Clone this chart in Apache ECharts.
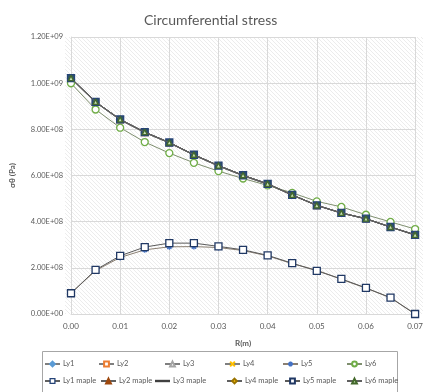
<!DOCTYPE html>
<html><head><meta charset="utf-8">
<script src="https://cdn.jsdelivr.net/npm/echarts@6/dist/echarts.min.js"></script>
<style>html,body{margin:0;padding:0;background:#fff}#c{width:426px;height:392px}</style>
</head><body><div id="c"></div>
<script>
// ---- data ----
const radius = [0, 0.005, 0.01, 0.015, 0.02, 0.025, 0.03, 0.035, 0.04, 0.045, 0.05, 0.055, 0.06, 0.065, 0.07];
const upperMaple = [1.022e9, 0.919e9, 0.843e9, 0.788e9, 0.743e9, 0.690e9, 0.643e9, 0.601e9, 0.564e9, 0.516e9, 0.471e9, 0.438e9, 0.413e9, 0.377e9, 0.343e9];
const upperLy = [1.020e9, 0.917e9, 0.841e9, 0.786e9, 0.741e9, 0.688e9, 0.641e9, 0.599e9, 0.562e9, 0.515e9, 0.470e9, 0.437e9, 0.412e9, 0.376e9, 0.342e9];
const ly6 = [0.9996e9, 0.886e9, 0.807e9, 0.745e9, 0.697e9, 0.655e9, 0.619e9, 0.587e9, 0.557e9, 0.525e9, 0.488e9, 0.464e9, 0.430e9, 0.399e9, 0.368e9];
const lowerMaple = [0.090e9, 0.191e9, 0.252e9, 0.290e9, 0.307e9, 0.307e9, 0.293e9, 0.278e9, 0.254e9, 0.220e9, 0.187e9, 0.152e9, 0.113e9, 0.071e9, 0.0];
const lowerLy = [0.090e9, 0.188e9, 0.245e9, 0.278e9, 0.291e9, 0.292e9, 0.288e9, 0.275e9, 0.252e9, 0.218e9, 0.190e9, 0.150e9, 0.112e9, 0.070e9, 0.0];
const xTicks = ['0.00','0.01','0.02','0.03','0.04','0.05','0.06','0.07'];
const yTicks = ['0.00E+00','2.00E+08','4.00E+08','6.00E+08','8.00E+08','1.00E+09','1.20E+09'];

const FONT = 'Lato, "Open Sans", sans-serif';
const G = {left: 65, top: 37, right: 3, bottom: 78};

// hatch pattern
const tile = document.createElement('canvas');
tile.width = 4; tile.height = 4;
const tc = tile.getContext('2d');
tc.fillStyle = '#ffffff'; tc.fillRect(0,0,4,4);
tc.strokeStyle = 'rgba(0,0,0,0.075)'; tc.lineWidth = 1;
tc.beginPath(); tc.moveTo(-1,-1); tc.lineTo(5,5); tc.moveTo(-1,3); tc.lineTo(1,5); tc.moveTo(3,-1); tc.lineTo(5,1); tc.stroke();

const pts = arr => radius.map((r, i) => [r, arr[i]]);
const XPATH = 'path://M0,0L10,10M10,0L0,10';
const STAR = 'path://M5,0L5,10M0,5L10,5M1.5,1.5L8.5,8.5M8.5,1.5L1.5,8.5';

function mk(name, data, color, symbol, size, fill, lineColor, z, extra) {
  return Object.assign({
    name, type: 'line', data: pts(data), color,
    symbol, symbolSize: size, showSymbol: symbol !== 'none',
    lineStyle: {color: lineColor, width: 1},
    itemStyle: {color: fill, borderColor: color, borderWidth: 1.3},
    z, animation: false, emphasis: {disabled: true}
  }, extra || {});
}

const series = [
  mk('Ly1', upperLy, '#5b9bd5', 'diamond', 6, '#5b9bd5', '#7f7f7f', 2),
  mk('Ly2', upperLy, '#ed7d31', 'rect', 6, '#ffffff', '#7f7f7f', 2),
  mk('Ly3', upperLy, '#a5a5a5', 'triangle', 6, '#ffffff', '#7f7f7f', 2),
  mk('Ly4', upperLy, '#ffc000', XPATH, 5, '#ffc000', '#7f7f7f', 2),
  mk('Ly5', lowerLy, '#4472c4', STAR, 6, '#4472c4', '#8a7f72', 3),
  mk('Ly6', ly6, '#70ad47', 'circle', 7, '#ffffff', '#7f8f6f', 4),
  mk('Ly1 maple', upperMaple, '#264478', 'rect', 7, '#2f5560', '#606060', 5),
  mk('Ly2 maple', upperMaple, '#9e480e', 'triangle', 5, '#9e480e', '#606060', 3),
  mk('Ly3 maple', upperMaple, '#404040', 'none', 6, '#404040', '#606060', 3),
  mk('Ly4 maple', upperMaple, '#997300', 'diamond', 5, '#ffc000', '#606060', 3),
  mk('Ly5 maple', lowerMaple, '#203864', 'rect', 7, '#ffffff', '#5a5a5a', 6),
  mk('Ly6 maple', upperMaple, '#43682b', 'triangle', 5, '#c6e0b4', '#606060', 7)
];

const legendRow1 = ['Ly1','Ly2','Ly3','Ly4','Ly5','Ly6'];
const legendRow2 = ['Ly1 maple','Ly2 maple','Ly3 maple','Ly4 maple','Ly5 maple','Ly6 maple'];
const row1X = [44, 98, 164, 224, 282, 346];
const row2X = [44, 100, 155, 226, 284, 346];
const legendIconOverride = {
  'Ly1 maple': {itemStyle: {color: '#ffffff', borderColor: '#264478', borderWidth: 1.3}},
  'Ly3 maple': {icon: 'path://M0,4.2L10,4.2L10,5.8L0,5.8Z', itemStyle: {color: '#404040', borderWidth: 0}}
};
const legends = [];
function addRow(names, xs, top) {
  names.forEach((n, i) => {
    const item = Object.assign({name: n}, legendIconOverride[n] || {});
    legends.push({
      data: [item], left: xs[i], top, orient: 'horizontal', padding: 0,
      itemWidth: 15, itemHeight: 6, itemGap: 0, selectedMode: false,
      textStyle: {fontFamily: FONT, fontSize: 7.5, color: '#595959', padding: [0,0,0,-2]}
    });
  });
}
addRow(legendRow1, row1X, 360);
addRow(legendRow2, row2X, 377);

const fmtY = v => v.toExponential(2).toUpperCase().replace(/E([+-])(\d)$/, 'E$10$2');

const chart = echarts.init(document.getElementById('c'), null, {renderer: 'canvas'});
chart.setOption({
  backgroundColor: '#ffffff',
  animation: false,
  title: {text: 'Circumferential stress', left: 139, top: 8,
    textStyle: {fontFamily: FONT, fontSize: 14, fontWeight: 'normal', color: '#595959'}},
  grid: {left: G.left, top: G.top, right: G.right, bottom: G.bottom, containLabel: false},
  graphic: {elements: [
    {type: 'rect', z: -10, silent: true,
     shape: {x: G.left, y: G.top, width: 426 - G.left - G.right, height: 392 - G.top - G.bottom},
     style: {fill: {image: tile, repeat: 'repeat'}}},
    {type: 'rect', z: -10, silent: true,
     shape: {x: 42.5, y: 351.5, width: 355, height: 45},
     style: {fill: 'none', stroke: '#a6a6a6', lineWidth: 1}}
  ]},
  legend: legends,
  xAxis: {type: 'value', min: 0, max: 0.07, interval: 0.01,
    name: 'R(m)', nameLocation: 'middle', nameGap: 25,
    nameTextStyle: {fontFamily: FONT, fontSize: 8, fontWeight: 'bold', color: '#595959'},
    axisLine: {show: true, lineStyle: {color: '#d9d9d9'}}, axisTick: {show: false},
    axisLabel: {fontFamily: FONT, fontSize: 8, color: '#595959', margin: 8,
      formatter: v => xTicks[Math.round(v / 0.01)]},
    splitLine: {show: true, lineStyle: {color: '#d9d9d9', width: 1}}},
  yAxis: {type: 'value', min: 0, max: 1.2e9, interval: 2e8,
    name: 'σθ (Pa)', nameLocation: 'middle', nameGap: 55, nameRotate: 90,
    nameTextStyle: {fontFamily: FONT, fontSize: 8, fontWeight: 'bold', color: '#595959'},
    axisLine: {show: true, lineStyle: {color: '#d9d9d9'}}, axisTick: {show: false},
    axisLabel: {fontFamily: FONT, fontSize: 7.5, color: '#595959', margin: 8,
      formatter: v => yTicks[Math.round(v / 2e8)] || fmtY(v)},
    splitLine: {show: true, lineStyle: {color: '#d9d9d9', width: 1}}},
  series
});
</script></body></html>
